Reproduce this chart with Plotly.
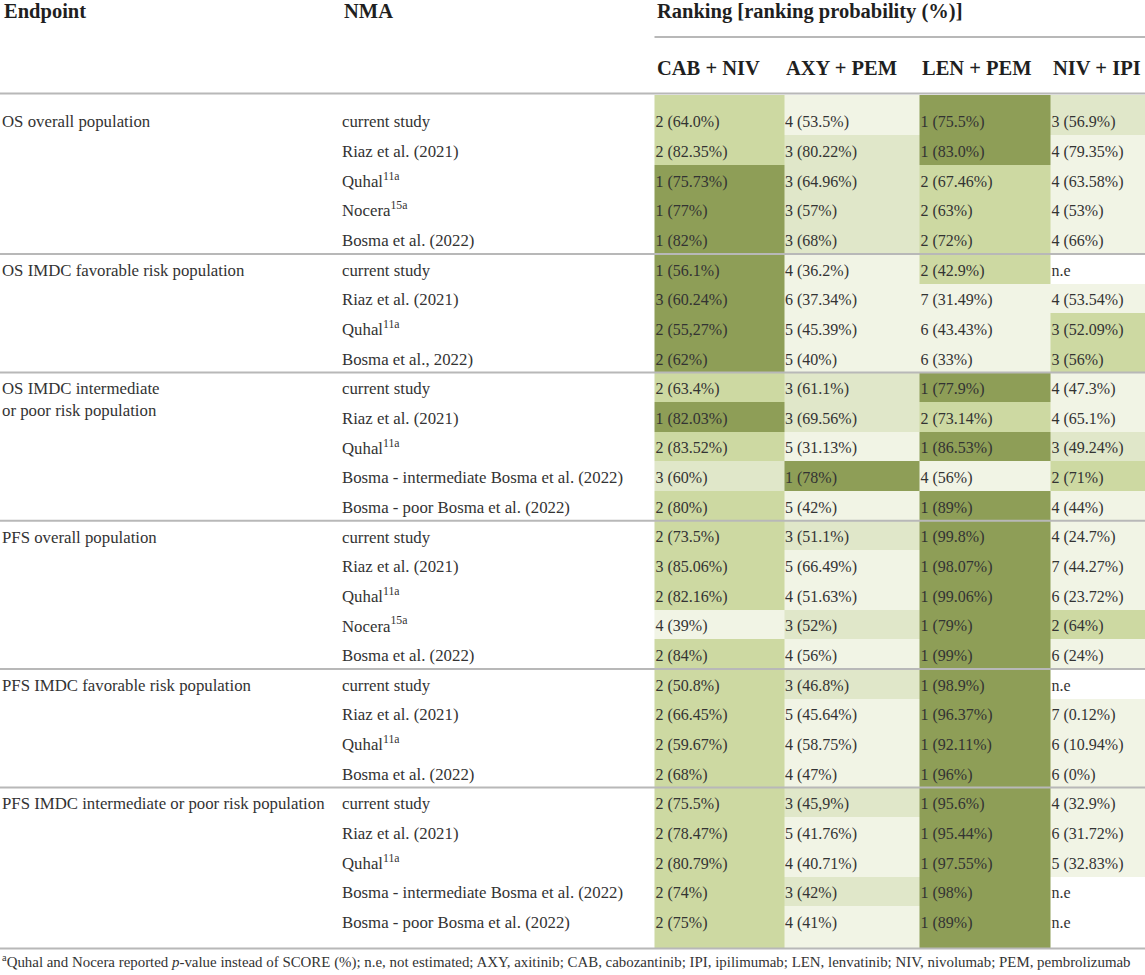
import plotly.graph_objects as go

# --- table data ---------------------------------------------------------
treatments = ["CAB + NIV", "AXY + PEM", "LEN + PEM", "NIV + IPI"]

endpoints = [
    "OS overall population",
    "OS IMDC favorable risk population",
    "OS IMDC intermediate<br>or poor risk population",
    "PFS overall population",
    "PFS IMDC favorable risk population",
    "PFS IMDC intermediate or poor risk population",
]
group_sizes = [5, 4, 5, 5, 4, 5]

nma = [
    "current study", "Riaz et al. (2021)", "Quhal<sup>11a</sup>", "Nocera<sup>15a</sup>", "Bosma et al. (2022)",
    "current study", "Riaz et al. (2021)", "Quhal<sup>11a</sup>", "Bosma et al., 2022)",
    "current study", "Riaz et al. (2021)", "Quhal<sup>11a</sup>",
    "Bosma - intermediate Bosma et al. (2022)", "Bosma - poor Bosma et al. (2022)",
    "current study", "Riaz et al. (2021)", "Quhal<sup>11a</sup>", "Nocera<sup>15a</sup>", "Bosma et al. (2022)",
    "current study", "Riaz et al. (2021)", "Quhal<sup>11a</sup>", "Bosma et al. (2022)",
    "current study", "Riaz et al. (2021)", "Quhal<sup>11a</sup>",
    "Bosma - intermediate Bosma et al. (2022)", "Bosma - poor Bosma et al. (2022)",
]

cab_niv = [
    "2 (64.0%)", "2 (82.35%)", "1 (75.73%)", "1 (77%)", "1 (82%)",
    "1 (56.1%)", "3 (60.24%)", "2 (55,27%)", "2 (62%)",
    "2 (63.4%)", "1 (82.03%)", "2 (83.52%)", "3 (60%)", "2 (80%)",
    "2 (73.5%)", "3 (85.06%)", "2 (82.16%)", "4 (39%)", "2 (84%)",
    "2 (50.8%)", "2 (66.45%)", "2 (59.67%)", "2 (68%)",
    "2 (75.5%)", "2 (78.47%)", "2 (80.79%)", "2 (74%)", "2 (75%)",
]
axy_pem = [
    "4 (53.5%)", "3 (80.22%)", "3 (64.96%)", "3 (57%)", "3 (68%)",
    "4 (36.2%)", "6 (37.34%)", "5 (45.39%)", "5 (40%)",
    "3 (61.1%)", "3 (69.56%)", "5 (31.13%)", "1 (78%)", "5 (42%)",
    "3 (51.1%)", "5 (66.49%)", "4 (51.63%)", "3 (52%)", "4 (56%)",
    "3 (46.8%)", "5 (45.64%)", "4 (58.75%)", "4 (47%)",
    "3 (45,9%)", "5 (41.76%)", "4 (40.71%)", "3 (42%)", "4 (41%)",
]
len_pem = [
    "1 (75.5%)", "1 (83.0%)", "2 (67.46%)", "2 (63%)", "2 (72%)",
    "2 (42.9%)", "7 (31.49%)", "6 (43.43%)", "6 (33%)",
    "1 (77.9%)", "2 (73.14%)", "1 (86.53%)", "4 (56%)", "1 (89%)",
    "1 (99.8%)", "1 (98.07%)", "1 (99.06%)", "1 (79%)", "1 (99%)",
    "1 (98.9%)", "1 (96.37%)", "1 (92.11%)", "1 (96%)",
    "1 (95.6%)", "1 (95.44%)", "1 (97.55%)", "1 (98%)", "1 (89%)",
]
niv_ipi = [
    "3 (56.9%)", "4 (79.35%)", "4 (63.58%)", "4 (53%)", "4 (66%)",
    "n.e", "4 (53.54%)", "3 (52.09%)", "3 (56%)",
    "4 (47.3%)", "4 (65.1%)", "3 (49.24%)", "2 (71%)", "4 (44%)",
    "4 (24.7%)", "7 (44.27%)", "6 (23.72%)", "2 (64%)", "6 (24%)",
    "n.e", "7 (0.12%)", "6 (10.94%)", "6 (0%)",
    "4 (32.9%)", "6 (31.72%)", "5 (32.83%)", "n.e", "n.e",
]

# cell shading level as printed (0 none, 1 palest ... 4 darkest)
cab_shade = [3, 3, 4, 4, 4, 4, 4, 4, 4, 3, 4, 3, 2, 3, 3, 3, 3, 1, 3, 3, 3, 3, 3, 3, 3, 3, 3, 3]
axy_shade = [1, 2, 2, 2, 2, 1, 1, 1, 1, 2, 2, 1, 4, 1, 2, 1, 1, 2, 1, 2, 1, 1, 1, 2, 1, 1, 2, 1]
len_shade = [4, 4, 3, 3, 3, 3, 1, 1, 1, 4, 3, 4, 1, 4, 4, 4, 4, 4, 4, 4, 4, 4, 4, 4, 4, 4, 4, 4]
niv_shade = [2, 1, 1, 1, 1, 0, 1, 3, 3, 1, 1, 2, 3, 1, 1, 1, 1, 3, 1, 0, 1, 1, 1, 1, 1, 1, 0, 0]

footnote = ("<sup>a</sup>Quhal and Nocera reported <i>p</i>-value instead of SCORE (%); n.e, not estimated; "
            "AXY, axitinib; CAB, cabozantinib; IPI, ipilimumab; LEN, lenvatinib; NIV, nivolumab; PEM, pembrolizumab")

# --- layout helpers -------------------------------------------------------
W, H = 1145, 975
ROW0_PX, ROW_PX = 121.8, 29.65          # centre of first body row, row pitch
TEXT_NUDGE = 1.5 / ROW_PX               # text sits a touch below row centre
n_rows = len(nma)
rows = list(range(n_rows))
text_rows = [r + TEXT_NUDGE for r in rows]

x_endpoint, x_nma = 2, 342
col_edges = [654.5, 784, 919.5, 1050.5, W]

def px_to_row(p):
    return (p - ROW0_PX) / ROW_PX

# cell edges: each row ends 13.5px below its centre, first/last rows padded
row_edges = [px_to_row(95)] + [r + 13.5 / ROW_PX for r in rows[:-1]] + [px_to_row(948.5)]

group_starts = [sum(group_sizes[:i]) for i in range(len(group_sizes))]

FONT = "Liberation Serif, Times New Roman, serif"
TXT = "#333333"
HDR = "#1f1f1f"
shade_colors = ["#ffffff", "#f1f4e5", "#e0e7c9", "#cdd9a2", "#8e9e57"]

fig = go.Figure()

# shaded cells
z = [[cab_shade[r], axy_shade[r], len_shade[r], niv_shade[r]] for r in rows]
cs = []
for i, c in enumerate(shade_colors):
    cs.append([max(0, (i - 0.5) / 4), c])
    cs.append([min(1, (i + 0.5) / 4), c])
fig.add_trace(go.Heatmap(
    x=col_edges, y=row_edges, z=z, zmin=0, zmax=4,
    colorscale=cs, showscale=False, hoverinfo="skip", zsmooth=False,
))

word_font = dict(family=FONT, size=16.8, color=TXT)
num_font = dict(family=FONT, size=16, color=TXT)

# endpoint labels (first row of each group)
ep_y = []
for g, start in enumerate(group_starts):
    ep_y.append(text_rows[start] + (0.37 if "<br>" in endpoints[g] else 0))
fig.add_trace(go.Scatter(
    x=[x_endpoint] * len(endpoints), y=ep_y, text=endpoints, mode="text",
    textposition="middle right", textfont=word_font, hoverinfo="skip", showlegend=False,
))

# NMA column
fig.add_trace(go.Scatter(
    x=[x_nma] * n_rows, y=text_rows, text=nma, mode="text",
    textposition="middle right", textfont=word_font, hoverinfo="skip", showlegend=False,
))

# ranking columns
for ci, col in enumerate([cab_niv, axy_pem, len_pem, niv_ipi]):
    fig.add_trace(go.Scatter(
        x=[col_edges[ci] + 1] * n_rows, y=text_rows, text=col, mode="text",
        textposition="middle right", textfont=num_font, hoverinfo="skip", showlegend=False,
    ))

# rules
line = dict(color="#b8b8b8", width=2)
fig.add_shape(type="line", x0=0, x1=W, y0=px_to_row(93.5), y1=px_to_row(93.5), line=line)
fig.add_shape(type="line", x0=col_edges[0], x1=W, y0=px_to_row(37), y1=px_to_row(37), line=line)
for start in group_starts[1:]:
    y = row_edges[start]
    fig.add_shape(type="line", x0=0, x1=W, y0=y, y1=y, line=line)
fig.add_shape(type="line", x0=0, x1=W, y0=row_edges[-1], y1=row_edges[-1], line=line)

# headers
hdr_font = dict(family=FONT, size=20.5, color=HDR)
for x, y, t in [(x_endpoint, 11, "Endpoint"), (x_nma, 11, "NMA"),
                (col_edges[0], 11, "Ranking [ranking probability (%)]")]:
    fig.add_annotation(x=x, y=px_to_row(y), text="<b>%s</b>" % t, showarrow=False,
                       xanchor="left", yanchor="middle", font=hdr_font)
for ci, t in enumerate(treatments):
    fig.add_annotation(x=col_edges[ci], y=px_to_row(67.5), text="<b>%s</b>" % t, showarrow=False,
                       xanchor="left", yanchor="middle", font=hdr_font)

fig.add_annotation(x=0, y=px_to_row(961), text=footnote, showarrow=False,
                   xanchor="left", yanchor="middle",
                   font=dict(family=FONT, size=14.9, color=TXT))

fig.update_layout(
    width=W, height=H,
    margin=dict(l=0, r=0, t=0, b=0),
    paper_bgcolor="white", plot_bgcolor="white",
    showlegend=False,
    xaxis=dict(range=[0, W], visible=False, fixedrange=True),
    yaxis=dict(range=[px_to_row(H), px_to_row(0)], visible=False, fixedrange=True),
)

# drop the browser's default body margin so the figure fills the window
fig.write_html("out.html", config={"displayModeBar": False},
               post_script="document.body.style.margin='0';")
